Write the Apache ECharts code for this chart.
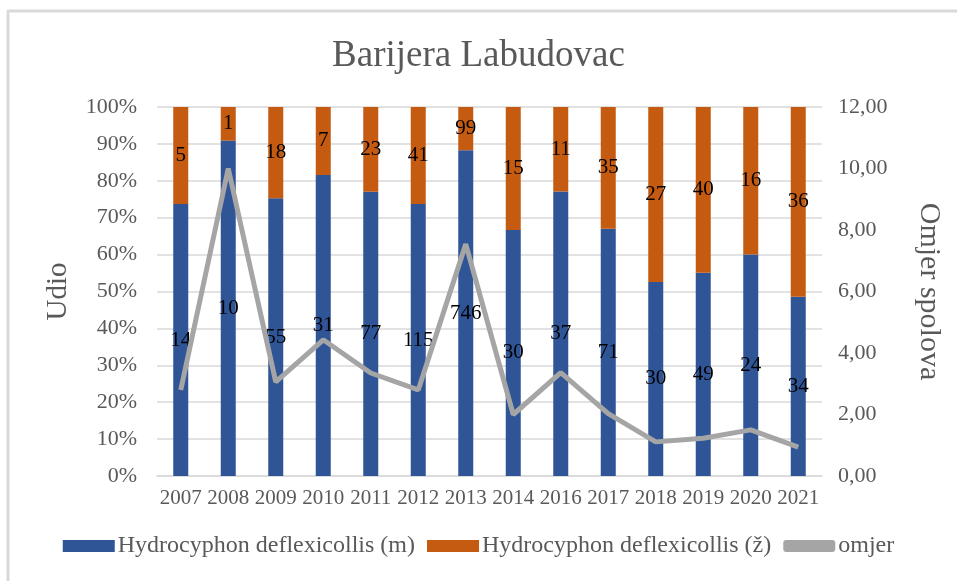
<!DOCTYPE html>
<html>
<head>
<meta charset="utf-8">
<script src="https://cdn.jsdelivr.net/npm/echarts@6/dist/echarts.min.js"></script>
<style>
  html, body { margin: 0; padding: 0; background: #fff; }
  #chart { width: 957px; height: 581px; }
</style>
</head>
<body>
<div id="chart"></div>
<script>
var years = ['2007','2008','2009','2010','2011','2012','2013','2014','2016','2017','2018','2019','2020','2021'];
// broj jedinki (oznake na stupcima)
var countM = [14, 10, 55, 31, 77, 115, 746, 30, 37, 71, 30, 49, 24, 34];
var countF = [5, 1, 18, 7, 23, 41, 99, 15, 11, 35, 27, 40, 16, 36];
// udio u % (visina stupaca)
var shareM = [73.7, 90.9, 75.3, 81.6, 77.0, 73.7, 88.3, 66.7, 77.1, 67.0, 52.6, 55.1, 60.0, 48.6];
var shareF = [26.3, 9.1, 24.7, 18.4, 23.0, 26.3, 11.7, 33.3, 22.9, 33.0, 47.4, 44.9, 40.0, 51.4];
// omjer spolova m/z
var ratio = [2.80, 10.00, 3.06, 4.43, 3.35, 2.80, 7.54, 2.00, 3.36, 2.03, 1.11, 1.23, 1.50, 0.94];

var font = 'Liberation Serif';
var gray = '#595959';

var option = {
    backgroundColor: '#fff',
    animation: false,
    textStyle: { fontFamily: font },
    title: {
        text: 'Barijera Labudovac',
        left: 'center',
        top: 33,
        textStyle: { fontFamily: font, fontSize: 37, fontWeight: 'normal', color: gray }
    },
    legend: {
        bottom: 18,
        left: 'center',
        itemWidth: 52,
        itemHeight: 12,
        itemGap: 12,
        textStyle: { fontFamily: font, fontSize: 24, color: gray, padding: [0, 0, 0, -2] },
        data: [
            { name: 'Hydrocyphon deflexicollis (m)', icon: 'rect' },
            { name: 'Hydrocyphon deflexicollis (ž)', icon: 'rect' },
            { name: 'omjer', icon: 'roundRect' }
        ]
    },
    grid: { left: 157, right: 135, top: 107, bottom: 105 },
    xAxis: {
        type: 'category',
        data: years,
        axisLine: { lineStyle: { color: '#D9D9D9', width: 1.5 } },
        axisTick: { show: false },
        axisLabel: { interval: 0, fontFamily: font, fontSize: 21, color: gray, margin: 12 }
    },
    yAxis: [
        {
            type: 'value',
            name: 'Udio',
            nameLocation: 'middle',
            nameGap: 84,
            nameTextStyle: { fontFamily: font, fontSize: 29, color: gray },
            min: 0, max: 100, interval: 10,
            axisLabel: { fontFamily: font, fontSize: 22, color: gray, formatter: '{value}%', margin: 20 },
            splitLine: { lineStyle: { color: '#D9D9D9', width: 1.5 } },
            axisLine: { show: false },
            axisTick: { show: false }
        },
        {
            type: 'value',
            name: 'Omjer spolova',
            nameLocation: 'middle',
            nameGap: 92,
            nameRotate: 270,
            nameTextStyle: { fontFamily: font, fontSize: 30, color: gray },
            min: 0, max: 12, interval: 2,
            axisLabel: {
                fontFamily: font, fontSize: 22, color: gray, margin: 16,
                formatter: function (v) { return v.toFixed(2).replace('.', ','); }
            },
            splitLine: { show: false },
            axisLine: { show: false },
            axisTick: { show: false }
        }
    ],
    series: [
        {
            name: 'Hydrocyphon deflexicollis (m)',
            type: 'bar',
            stack: 'udio',
            barWidth: 15,
            itemStyle: { color: '#2F5597' },
            label: {
                show: true, position: 'inside', fontFamily: font, fontSize: 21, color: '#000',
                formatter: function (p) { return countM[p.dataIndex]; }
            },
            data: shareM
        },
        {
            name: 'Hydrocyphon deflexicollis (ž)',
            type: 'bar',
            stack: 'udio',
            barWidth: 15,
            itemStyle: { color: '#C55A11' },
            label: {
                show: true, position: 'inside', fontFamily: font, fontSize: 21, color: '#000',
                formatter: function (p) { return countF[p.dataIndex]; }
            },
            data: shareF
        },
        {
            name: 'omjer',
            type: 'line',
            yAxisIndex: 1,
            symbol: 'none',
            lineStyle: { color: '#A5A5A5', width: 5 },
            itemStyle: { color: '#A5A5A5' },
            z: 3,
            data: ratio
        }
    ],
    graphic: [
        { type: 'line', shape: { x1: 7, y1: 11, x2: 957, y2: 11 }, style: { stroke: '#D9D9D9', lineWidth: 3 } },
        { type: 'line', shape: { x1: 8, y1: 11, x2: 8, y2: 581 }, style: { stroke: '#D9D9D9', lineWidth: 3 } }
    ]
};

var myChart = echarts.init(document.getElementById('chart'));
myChart.setOption(option);
window.onresize = myChart.resize;
</script>
</body>
</html>
